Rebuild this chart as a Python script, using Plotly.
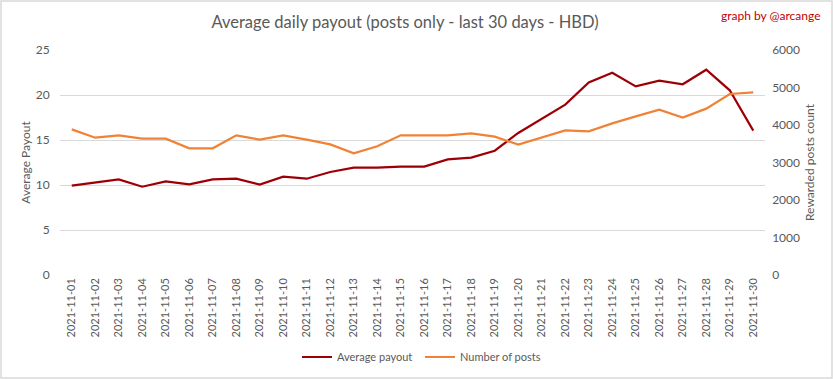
import plotly.graph_objects as go

dates = [f"2021-11-{d:02d}" for d in range(1, 31)]
avg_payout = [9.93, 10.3, 10.63, 9.81, 10.4, 10.07, 10.63, 10.7, 10.04, 10.93,
              10.7, 11.44, 11.93, 11.93, 12.04, 12.04, 12.85, 13.04, 13.81, 15.78,
              17.35, 18.93, 21.4, 22.48, 20.96, 21.6, 21.19, 22.81, 20.52, 16.04]
num_posts = [3884, 3662, 3724, 3636, 3636, 3378, 3378, 3724, 3609, 3724,
             3609, 3484, 3244, 3431, 3724, 3724, 3724, 3778, 3689, 3476,
             3671, 3858, 3831, 4044, 4231, 4409, 4196, 4436, 4827, 4871]

W, H = 833, 379
ML, MR, MT, MB = 60, 68, 50, 104
pw, ph = W - ML - MR, H - MT - MB

FONT = "Lato, 'Open Sans', sans-serif"
GRAY = "#595959"

fig = go.Figure()
fig.add_trace(go.Scatter(x=dates, y=avg_payout, name="Average payout", mode="lines",
                         line=dict(color="#9C0006", width=2.2), yaxis="y"))
fig.add_trace(go.Scatter(x=dates, y=num_posts, name="Number of posts", mode="lines",
                         line=dict(color="#F08236", width=2.2), yaxis="y2"))

fig.update_layout(
    width=W, height=H,
    margin=dict(l=ML, r=MR, t=MT, b=MB, autoexpand=False),
    paper_bgcolor="white", plot_bgcolor="white",
    font=dict(family=FONT, color=GRAY, size=12),
    title=dict(text="Average daily payout (posts only - last 30 days - HBD)",
               x=405 / W, xanchor="center", y=1 - 22 / H, yanchor="middle",
               font=dict(family=FONT, size=16.5, color=GRAY)),
    xaxis=dict(type="category", range=[-0.5, 29.5], tickangle=-90, showgrid=False,
               tickfont=dict(size=11, color=GRAY), ticks="", showline=False,
               zeroline=False, automargin=False),
    yaxis=dict(range=[0, 25], dtick=5, gridcolor="#d9d9d9", gridwidth=1,
               zeroline=False, showline=False, ticks="", ticksuffix="   ",
               automargin=False,
               title=dict(text="Average Payout", font=dict(size=12, color=GRAY), standoff=2),
               tickfont=dict(size=12, color=GRAY)),
    yaxis2=dict(range=[0, 6000], dtick=1000, overlaying="y", side="right",
                showgrid=False, zeroline=False, showline=False, ticks="",
                tickprefix="  ", automargin=False,
                title=dict(text="Rewarded posts count", font=dict(size=12, color=GRAY), standoff=6),
                tickfont=dict(size=12, color=GRAY)),
    legend=dict(orientation="h", x=(420 - ML) / pw, xanchor="center", y=-(357 - MT - ph) / ph,
                yanchor="middle", font=dict(size=11, color=GRAY), bgcolor="rgba(0,0,0,0)",
                itemwidth=30, entrywidthmode="pixels", entrywidth=78),
    showlegend=True,
    annotations=[dict(text="graph by @arcange", xref="paper", yref="paper",
                      x=(W - 10 - ML) / pw, y=1 + (MT - 15) / ph,
                      xanchor="right", yanchor="middle", showarrow=False,
                      font=dict(family=FONT, size=12, color="#C00000"))],
    shapes=[dict(type="rect", xref="paper", yref="paper",
                 x0=-(ML - 1) / pw, x1=1 + (MR - 1) / pw,
                 y0=-(MB - 1) / ph, y1=1 + (MT - 1) / ph,
                 line=dict(color="#d9d9d9", width=1.5), fillcolor="rgba(0,0,0,0)")],
)

fig.write_html("out.html", config={"displayModeBar": False},
               post_script="document.body.style.margin='0';document.body.style.overflow='hidden';")
